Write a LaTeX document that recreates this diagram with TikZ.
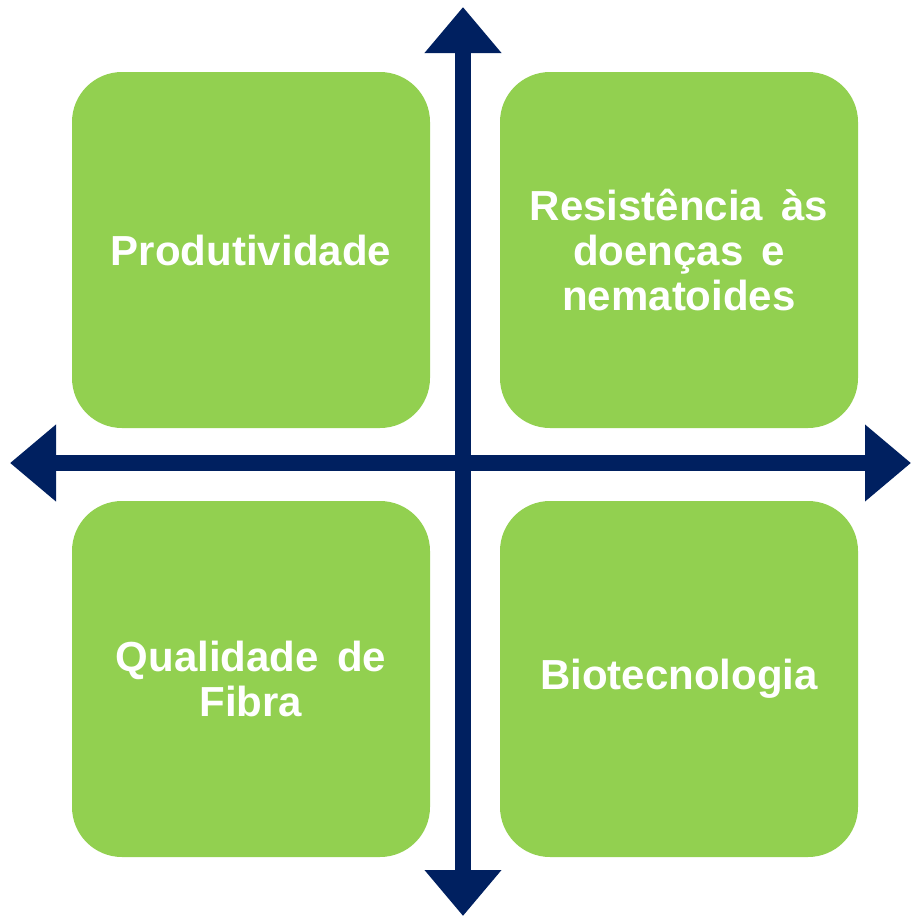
\documentclass[tikz,border=0pt]{standalone}
\usepackage{fontspec}
\setmainfont{Liberation Sans}
\usetikzlibrary{arrows.meta}
\definecolor{boxgreen}{HTML}{92D050}
\definecolor{axisnavy}{HTML}{002060}
\newcommand{\quadfont}{\fontsize{42}{45}\selectfont\bfseries}
\newcommand{\wsp}{\hspace{0.43em}}
\tikzset{
  quadbox/.style={fill=boxgreen, draw=none, rounded corners=50pt,
    minimum width=358pt, minimum height=356pt, inner sep=0pt,
    text=white, align=center, font=\quadfont},
  axisarrow/.style={draw=axisnavy, line width=16pt,
    {Triangle[width=74pt,length=46pt]}-{Triangle[width=74pt,length=46pt]}}
}
\begin{document}
\begin{tikzpicture}[x=1pt,y=-1pt]
\useasboundingbox (0,0) rectangle (911,916);
\node[quadbox] (tl) at (251,250) {Produtividade};
\node[quadbox] (tr) at (679,250) {Resistência\wsp às\\doenças\wsp e\\nematoides};
\node[quadbox] (bl) at (251,679) {Qualidade\wsp de\\Fibra};
\node[quadbox] (br) at (679,679) {Biotecnologia};
\coordinate (top) at (463,7);
\coordinate (bottom) at (463,916);
\coordinate (left) at (10,463);
\coordinate (right) at (911,463);
\draw[axisarrow] (top) -- (bottom);
\draw[axisarrow] (left) -- (right);
\end{tikzpicture}
\end{document}
